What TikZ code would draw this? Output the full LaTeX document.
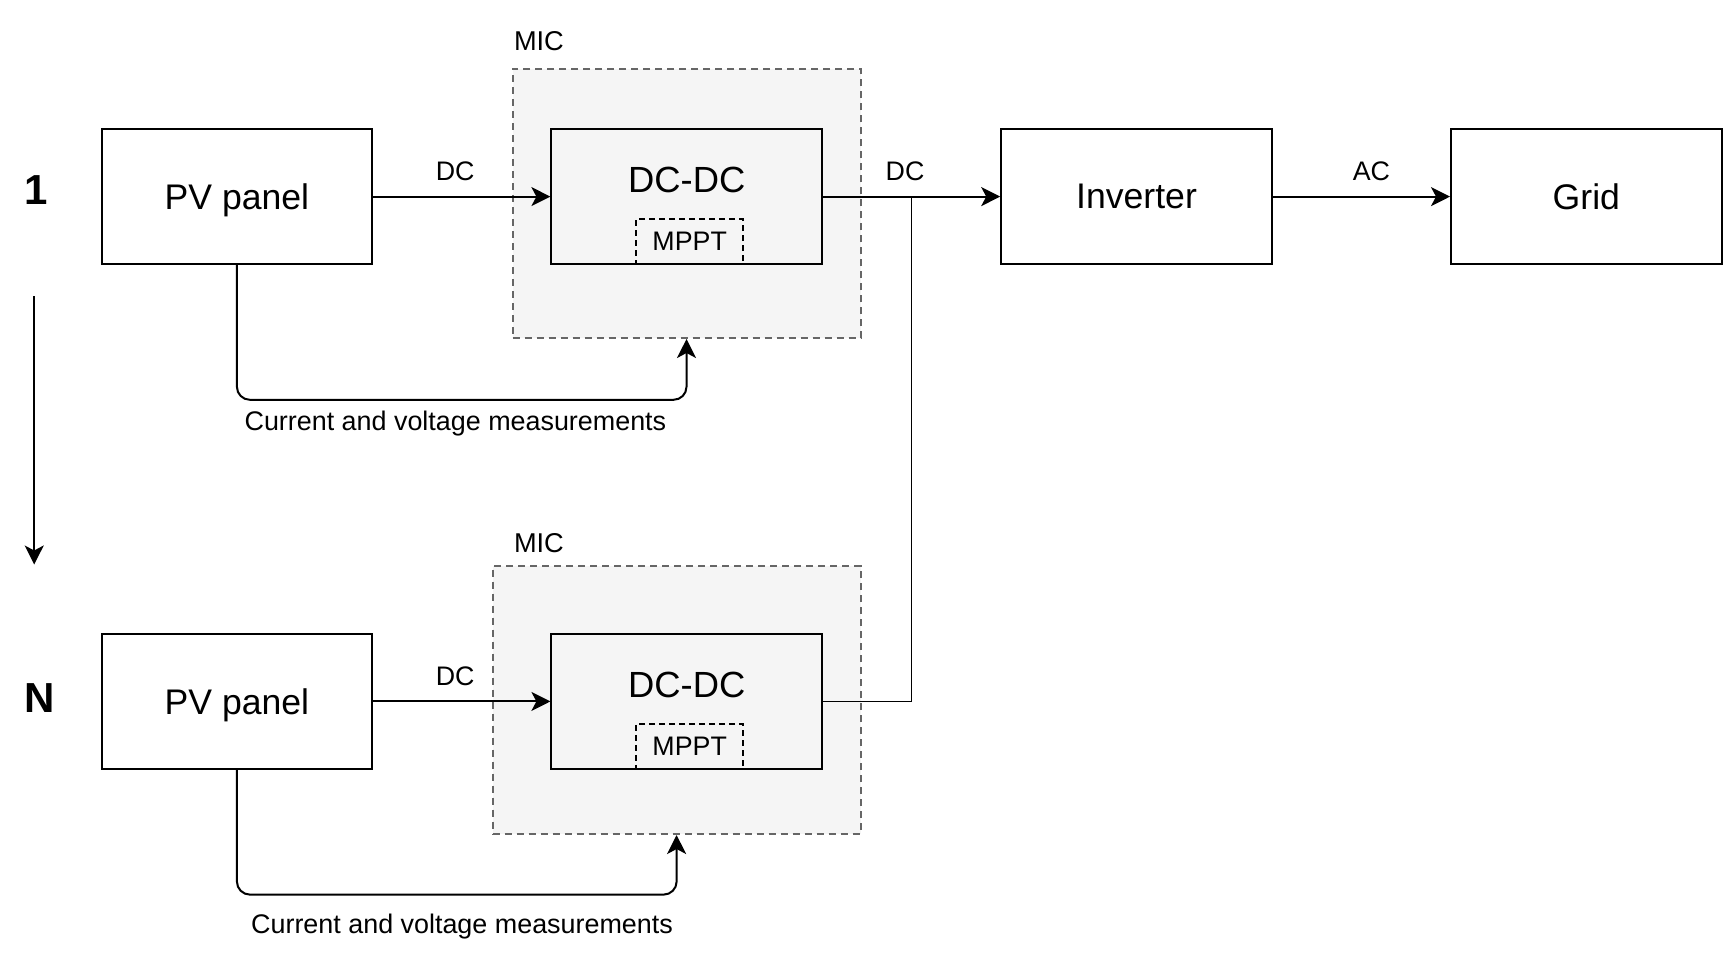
\documentclass[tikz,border=0pt]{standalone}
\usepackage{fontspec}
\setmainfont{Liberation Sans}
\usetikzlibrary{positioning,arrows.meta}
\definecolor{micfill}{HTML}{F5F5F5}
\definecolor{micdraw}{HTML}{666666}
\tikzset{
  block/.style={
    draw=black,
    line width=1pt,
    minimum width=135.3pt,
    minimum height=67.4pt,
    inner sep=0pt,
    text depth=0pt,
    font=\fontsize{17.8}{21}\selectfont
  },
  block-gray/.style={block, fill=micfill},
  mic-box/.style={draw=micdraw, fill=micfill, line width=1pt, dash pattern=on 3.5pt off 2.5pt, inner sep=0pt},
  mic-label/.style={anchor=west, inner sep=0pt, font=\fontsize{13.6}{16}\selectfont},
  mppt-box/.style={draw=black, line width=1pt, dash pattern=on 3pt off 2pt, minimum width=53.5pt, minimum height=22.5pt, inner sep=0pt, font=\fontsize{13.4}{16}\selectfont},
  flow/.style={line width=1pt, -{Stealth[length=9.5pt,width=9.5pt,inset=2.5pt]}},
  flow-label/.style={above=7.5pt, inner sep=0pt, font=\fontsize{13.4}{16}\selectfont},
  link/.style={line width=0.8pt},
  meas/.style={flow, rounded corners=6.5pt},
  meas-label/.style={font=\fontsize{13.45}{16}\selectfont},
  stage/.style={font=\bfseries\fontsize{21}{25}\selectfont}
}

\begin{document}
\begin{tikzpicture}[x=0.5pt, y=-0.5pt, node distance=88.6pt]
  \useasboundingbox (0,0) rectangle (1732,954);
  % MIC enclosures
  \node[mic-box, minimum width=174pt, minimum height=134.75pt] (mic1) at (686.5,203.25) {};
  \node[mic-box, minimum width=183.9pt, minimum height=134.2pt] (mic2) at (676.6,699.8) {};
  \node[mic-label] (miclbl1) at (513.6,40.9) {MIC};
  \node[mic-label] (miclbl2) at (513.6,543.5) {MIC};

  % string 1
  \node[block] (pv1) at (236.9,196.6) {PV panel};
  \node[block-gray, right=of pv1, label={[anchor=center, yshift=-26pt, font=\fontsize{18.2}{21}\selectfont]north:DC-DC}] (dcdc1) {};
  \node[mppt-box, above=0pt of dcdc1.south, xshift=1.5pt] (mppt1) {MPPT};
  \node[block, right=of dcdc1] (inv) {Inverter};
  \node[block, right=of inv] (grid) {Grid};

  % string N
  \node[block, below=184pt of pv1] (pv2) {PV panel};
  \node[block-gray, right=of pv2, label={[anchor=center, yshift=-26pt, font=\fontsize{18.2}{21}\selectfont]north:DC-DC}] (dcdc2) {};
  \node[mppt-box, above=0pt of dcdc2.south, xshift=1.5pt] (mppt2) {MPPT};

  \node[stage] (lbl1) at (36.5,190) {1};
  \node[stage] (lblN) at (39.8,698) {N};
  \coordinate (seqtop) at (34.2,296);
  \coordinate (seqbot) at (34.2,564.5);
  \draw[flow] (seqtop) -- (seqbot);

  % power flow
  \draw[flow] (pv1) -- node[flow-label, xshift=-3.3pt] {DC} (dcdc1);
  \draw[flow] (dcdc1) -- node[flow-label, xshift=-3.3pt] {DC} coordinate (tap) (inv);
  \draw[flow] (inv) -- node[flow-label, xshift=5pt] {AC} (grid);
  \draw[flow] (pv2) -- node[flow-label, xshift=-3.3pt] {DC} (dcdc2);
  \draw[link] (dcdc2.east) -| (tap);

  % measurement feedback
  \draw[meas] (pv1.south) -- ++(0,134.8) -| node[meas-label, below=2pt, pos=0.243] {Current and voltage measurements} (mic1.south);
  \draw[meas] (pv2.south) -- ++(0,124.8) -| node[meas-label, below=6pt, pos=0.256] {Current and voltage measurements} (mic2.south);
\end{tikzpicture}
\end{document}
